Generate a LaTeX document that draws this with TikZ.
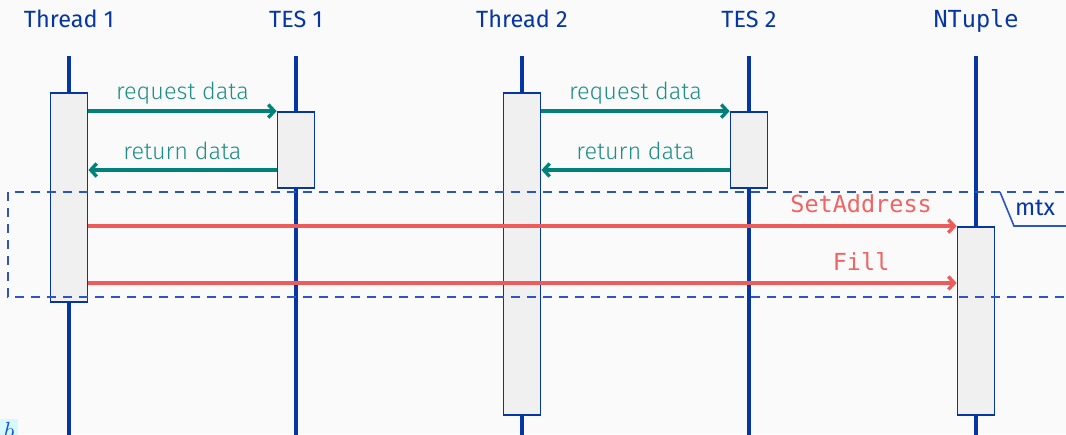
\documentclass[tikz,border=0pt]{standalone}
\usepackage{fontspec}
\setmainfont{Fira Sans}
\newfontfamily\msgfont{Fira Sans Light}
\setmonofont{DejaVu Sans Mono}
\usetikzlibrary{arrows.meta}

\definecolor{pagebg}{HTML}{FAFAFA}
\definecolor{lifeblue}{HTML}{0536A2}
\definecolor{frameblue}{HTML}{2A55C2}
\definecolor{actfill}{HTML}{F0F0F0}
\definecolor{msgteal}{HTML}{00827A}
\definecolor{msgtealtext}{HTML}{1E8F86}
\definecolor{msgred}{HTML}{EE5B5B}
\definecolor{msgredtext}{HTML}{EF6464}
\definecolor{markfill}{HTML}{D6F8FF}
\definecolor{markblue}{HTML}{1458D8}

\tikzset{
  head/.style={text=lifeblue, font=\fontsize{23.5}{27}\selectfont, anchor=base, inner sep=0pt},
  monohead/.style={head, font=\ttfamily\fontsize{23.5}{27}\selectfont},
  life/.style={draw=lifeblue, line width=3.6pt},
  act/.style={draw=lifeblue, line width=1.8pt, fill=actfill, minimum width=37pt, inner sep=0pt},
  tealmsg/.style={draw=msgteal, line width=3.4pt, -{Straight Barb[length=6pt,width=13pt]}},
  redmsg/.style={draw=msgred, line width=3.4pt, -{Straight Barb[length=6pt,width=13pt]}},
  tealtext/.style={text=msgtealtext, font=\msgfont\fontsize{23.5}{27}\selectfont, anchor=base, inner sep=0pt},
  redtext/.style={text=msgredtext, font=\ttfamily\fontsize{23.5}{27}\selectfont, anchor=base, inner sep=0pt},
  regionline/.style={draw=frameblue, line width=1.8pt, dash pattern=on 9pt off 7pt},
  taglabel/.style={text=lifeblue, font=\fontsize{23.5}{27}\selectfont, anchor=base, inner sep=0pt},
}

\begin{document}
\begin{tikzpicture}[x=1pt,y=-1pt]
  \fill[pagebg] (0,0) rectangle (1066,434);
  \useasboundingbox (0,0) rectangle (1066,434);
  \clip (0,0) rectangle (1066,434);

  % lifeline heads
  \node[head]     (h1) at (69,27)  {Thread 1};
  \node[head]     (h2) at (296,27) {TES 1};
  \node[head]     (h3) at (522,27) {Thread 2};
  \node[head]     (h4) at (749,27) {TES 2};
  \node[monohead] (h5) at (976,27) {NTuple};

  % lifelines
  \foreach \i/\x in {1/69,2/296,3/522,4/749,5/976}{
    \coordinate (top\i) at (\x,56);
    \coordinate (bot\i) at (\x,445);
    \draw[life] (top\i) -- (bot\i);
  }

  % activation bars
  \node[act, minimum height=209pt] (a1) at (69,197.5) {};
  \node[act, minimum height=76pt]  (a2) at (296,150)  {};
  \node[act, minimum height=322pt] (a3) at (522,254)  {};
  \node[act, minimum height=76pt]  (a4) at (749,150)  {};
  \node[act, minimum height=188pt] (a5) at (976,321)  {};

  % message levels
  \coordinate (ret) at (0,170);
  \coordinate (fillrow) at (0,283);

  % data requests to the TES instances
  \draw[tealmsg] (a1.east |- a2.north west) -- node[tealtext, yshift=12pt] {request data} (a2.north west);
  \draw[tealmsg] (a2.west |- ret) -- node[tealtext, yshift=11pt] {return data} (a1.east |- ret);
  \draw[tealmsg] (a3.east |- a4.north west) -- node[tealtext, yshift=12pt] {request data} (a4.north west);
  \draw[tealmsg] (a4.west |- ret) -- node[tealtext, yshift=11pt] {return data} (a3.east |- ret);

  % calls into the NTuple
  \draw[redmsg] (a1.east |- a5.north west) -- node[redtext, pos=0.89, yshift=14pt] {SetAddress} (a5.north west);
  \draw[redmsg] (a1.east |- fillrow) -- node[redtext, pos=0.89, yshift=13pt] {Fill} (a5.west |- fillrow);

  % mutex-guarded region
  \coordinate (rtl) at (8,192);
  \coordinate (rbl) at (8,297);
  \coordinate (rtr) at (1080,192);
  \coordinate (rbr) at (1080,297);
  \draw[regionline] (rtr) -- (rtl) -- (rbl) -- (rbr);
  \coordinate (tag1) at (1000,192);
  \coordinate (tag2) at (1014,226);
  \coordinate (tag3) at (1080,226);
  \draw[draw=frameblue, line width=1.6pt] (tag1) -- (tag2) -- (tag3);
  \node[taglabel] (mtx) at (1035,215) {mtx};

  % corner mark
  \node[fill=markfill, text=markblue, minimum width=18pt, inner xsep=0pt, inner ysep=3pt,
        font=\fontsize{24}{24}\selectfont, anchor=base] (mark) at (9,439) {$b$};
\end{tikzpicture}
\end{document}
